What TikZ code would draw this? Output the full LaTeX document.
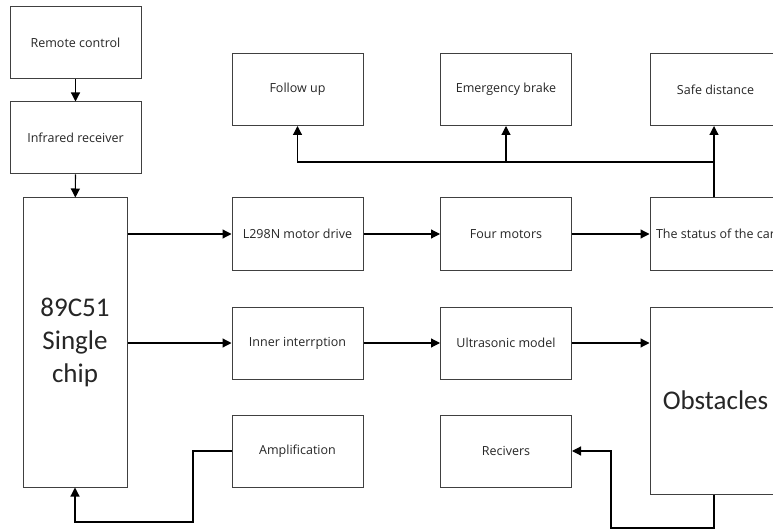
\documentclass[tikz,border=0pt]{standalone}
\usepackage{fontspec}
\setmainfont{Open Sans}
\newfontfamily\bigfont{Carlito}
\usetikzlibrary{arrows.meta}
\tikzset{
  box/.style={draw=black!75, line width=1pt, minimum width=131pt, minimum height=72pt, inner sep=0pt, font=\fontsize{12.5}{15}\selectfont, text=black!85},
  arr/.style={line width=1.2pt, -{Triangle[length=9pt,width=9pt]}},
  ln/.style={line width=1.2pt},
}
\begin{document}
\begin{tikzpicture}[x=1pt,y=-1pt]
\clip (0,0) rectangle (773,529);
\fill[white] (0,0) rectangle (773,529);
\node[box] (rc) at (75.5,43) {Remote control};
\node[box] (ir) at (75.5,138) {Infrared receiver};
\node[box, minimum width=104pt, minimum height=289pt, font=\bigfont\fontsize{27}{33}\selectfont, align=center] (chip) at (75,342.5) {89C51\\Single\\chip};
\node[box] (follow) at (297.5,89.5) {Follow up};
\node[box] (emerg) at (506,89.5) {Emergency brake};
\node[box] (safe) at (715.5,89.5) {Safe distance};
\node[box] (l298) at (297.5,234) {L298N motor drive};
\node[box] (four) at (506,234) {Four motors};
\node[box] (status) at (715.5,234) {The status of the car};
\node[box] (inner) at (297.5,343) {Inner interrption};
\node[box] (ultra) at (506,343) {Ultrasonic model};
\node[box, minimum height=187pt, font=\bigfont\fontsize{27}{33}\selectfont] (obst) at (715.5,400.5) {Obstacles};
\node[box] (amp) at (297.5,451) {Amplification};
\node[box] (reciv) at (506,451) {Recivers};
\coordinate (j) at (714,162);
\coordinate (s1) at (714,528);
\coordinate (s2) at (611,528);
\coordinate (a1) at (193,451);
\coordinate (a2) at (193,522);
\draw[arr] (rc) -- (ir);
\draw[arr] (ir) -- (chip);
\draw[arr] (chip.east |- l298.west) -- (l298.west);
\draw[arr] (l298) -- (four);
\draw[arr] (four) -- (status);
\draw[arr] (chip.east |- inner.west) -- (inner.west);
\draw[arr] (inner) -- (ultra);
\draw[arr] (ultra.east) -- (ultra.east -| obst.west);
\draw[arr] (j |- status.north) -- (j |- safe.south);
\draw[arr] (j) -| (follow.south);
\draw[arr] (emerg.south |- j) -- (emerg.south);
\draw[arr] (s1 |- obst.south) -- (s1) -- (s2) |- (reciv.east);
\draw[arr] (amp.west) -- (a1) -- (a2) -| (chip.south);
\end{tikzpicture}
\end{document}
